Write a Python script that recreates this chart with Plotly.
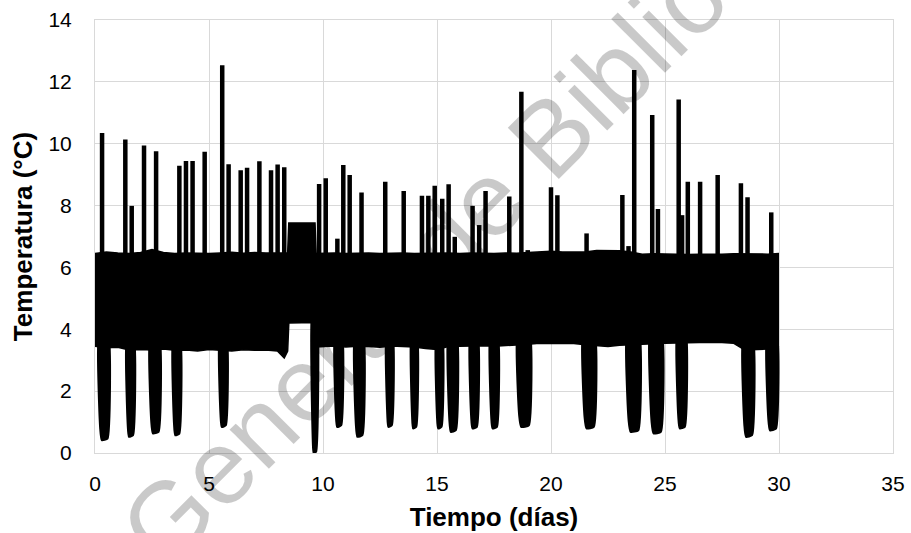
import numpy as np
import plotly.graph_objects as go

# Envelope of the fast on/off cycling band (day, upper and lower temperature)
band_day = [0.0, 0.5, 1.0, 1.5, 2.0, 2.5, 3.0, 3.5, 4.0, 4.5, 5.0, 5.5, 6.0, 6.5, 7.0, 7.5, 8.0,
            8.3, 8.45, 8.5, 9.0, 9.65, 9.7,
            10.0, 10.5, 11.0, 11.5, 12.0, 12.5, 13.0, 13.5, 14.0, 14.5, 15.0, 15.5, 16.0, 16.5,
            17.0, 17.5, 18.0, 18.5, 19.0, 19.5, 20.0, 20.5, 21.0, 21.5, 22.0, 22.5, 23.0, 23.5,
            24.0, 24.5, 25.0, 25.5, 26.0, 26.5, 27.0, 27.5, 28.0, 28.5, 29.0, 29.5, 30.0]
band_top = [6.45, 6.50, 6.47, 6.45, 6.48, 6.58, 6.48, 6.45, 6.47, 6.46, 6.45, 6.47, 6.49, 6.46, 6.48, 6.47, 6.46,
            6.45, 6.47, 7.44, 7.45, 7.44, 6.45,
            6.46, 6.47, 6.45, 6.46, 6.47, 6.45, 6.46, 6.47, 6.45, 6.46, 6.48, 6.47, 6.45, 6.47,
            6.46, 6.45, 6.47, 6.46, 6.48, 6.50, 6.52, 6.50, 6.51, 6.50, 6.55, 6.55, 6.54, 6.50,
            6.43, 6.44, 6.43, 6.44, 6.42, 6.43, 6.42, 6.43, 6.44, 6.43, 6.44, 6.43, 6.45]
band_low = [3.45, 3.40, 3.42, 3.33, 3.35, 3.33, 3.36, 3.32, 3.33, 3.30, 3.35, 3.33, 3.30, 3.34, 3.32, 3.33, 3.30,
            3.07, 3.30, 4.20, 4.20, 4.22, 3.43,
            3.44, 3.46, 3.43, 3.45, 3.44, 3.42, 3.46, 3.44, 3.43, 3.38, 3.35, 3.44, 3.45, 3.46,
            3.47, 3.45, 3.47, 3.48, 3.52, 3.55, 3.55, 3.56, 3.54, 3.50, 3.46, 3.44, 3.48, 3.50,
            3.52, 3.55, 3.55, 3.56, 3.57, 3.58, 3.58, 3.57, 3.55, 3.33, 3.35, 3.36, 3.45]

# Door-opening peaks (day, maximum temperature)
peak_day = [0.31, 1.33, 1.61, 2.15, 2.68, 3.70, 3.99, 4.28, 4.81, 5.58, 5.86, 6.39, 6.67, 7.21,
            7.72, 8.01, 8.30, 9.83, 10.12, 10.63, 10.89, 11.17, 11.69, 12.73, 13.54, 14.34,
            14.62, 14.90, 15.23, 15.51, 15.78, 16.56, 16.85, 17.13, 18.17, 18.70, 18.98, 20.00,
            20.28, 21.56, 23.13, 23.40, 23.65, 24.44, 24.69, 25.60, 25.75, 26.00, 26.54, 27.31,
            28.33, 28.62, 29.66]
peak_temp = [10.35, 10.14, 7.99, 9.94, 9.76, 9.29, 9.44, 9.44, 9.74, 12.54, 9.34, 9.14, 9.22, 9.43,
             9.14, 9.33, 9.24, 8.70, 8.88, 6.93, 9.31, 8.99, 8.42, 8.77, 8.47, 8.32,
             8.32, 8.64, 8.22, 8.69, 6.99, 7.99, 7.37, 8.47, 8.29, 11.68, 6.56, 8.59,
             8.33, 7.10, 8.34, 6.69, 12.38, 10.93, 7.89, 11.43, 7.69, 8.77, 8.77, 8.99,
             8.72, 8.27, 7.78]

# Defrost drops (centre day, minimum temperature, duration in days)
drop_day = [0.38, 1.55, 2.62, 3.58, 5.62, 9.63, 10.68, 11.58, 12.92, 14.00, 15.10, 15.68,
            16.62, 17.50, 18.80, 21.66, 23.60, 24.60, 25.72, 28.64, 29.69]
drop_min = [0.42, 0.53, 0.64, 0.58, 0.85, 0.00, 0.85, 0.53, 0.85, 0.80, 0.80, 0.69,
            0.80, 0.80, 0.85, 0.80, 0.69, 0.64, 0.80, 0.53, 0.74]
drop_len = [0.38, 0.28, 0.38, 0.28, 0.28, 0.18, 0.28, 0.34, 0.24, 0.22, 0.24, 0.34,
            0.30, 0.30, 0.50, 0.48, 0.50, 0.48, 0.34, 0.40, 0.40]

x_ticks = [0, 5, 10, 15, 20, 25, 30, 35]
y_ticks = [0, 2, 4, 6, 8, 10, 12, 14]

INK = "#000000"
GRID = "#d9d9d9"
FONT = "Liberation Sans, Arial, sans-serif"

fig = go.Figure()

# solid band of the compressor cycling
fig.add_trace(go.Scatter(x=band_day, y=band_low, mode="lines",
                         line=dict(color=INK, width=1.5), hoverinfo="skip"))
fig.add_trace(go.Scatter(x=band_day, y=band_top, mode="lines", fill="tonexty",
                         fillcolor=INK, line=dict(color=INK, width=1.5), hoverinfo="skip"))

# upward peaks
px, py = [], []
for d, t in zip(peak_day, peak_temp):
    base = float(np.interp(d, band_day, band_low)) + 0.6
    px += [d, d, None]
    py += [base, t, None]
fig.add_trace(go.Scatter(x=px, y=py, mode="lines",
                         line=dict(color=INK, width=4.5), hoverinfo="skip"))

# downward drops: steep fall, short flat bottom, steep recovery
for d, m, w in zip(drop_day, drop_min, drop_len):
    base = float(np.interp(d, band_day, band_low)) + 0.4
    left, right = d - w / 2, d + w / 2
    xs = [left, left + 0.04 * (w / 0.3), left + 0.09 * (w / 0.3), right - 0.03, right, left]
    ys = [base, m + 0.35, m, m + 0.05, base, base]
    fig.add_trace(go.Scatter(x=xs, y=ys, mode="lines", fill="toself", fillcolor=INK,
                             line=dict(color=INK, width=2.5, shape="spline", smoothing=0.4),
                             hoverinfo="skip"))

# faint diagonal watermark
fig.add_annotation(text="General de Biblioteca", xref="paper", yref="paper",
                   x=0.501, y=0.603, xanchor="center", yanchor="middle",
                   textangle=-45, showarrow=False,
                   font=dict(family=FONT, size=105, color="rgba(0,0,0,0.21)"))

fig.update_layout(
    width=911, height=533,
    margin=dict(l=95, r=18, t=20, b=80),
    paper_bgcolor="white", plot_bgcolor="white",
    showlegend=False,
    font=dict(family=FONT, color="#000000"),
)
fig.update_xaxes(
    range=[0, 35], tickvals=x_ticks, showgrid=True, gridcolor=GRID, gridwidth=1,
    zeroline=False, showline=True, mirror=True, linecolor=GRID, linewidth=1,
    ticks="outside", ticklen=12, tickcolor="rgba(0,0,0,0)", automargin=False,
    tickfont=dict(family=FONT, size=21, color="#000000"),
    title=dict(text="<b>Tiempo (días)</b>", standoff=13,
               font=dict(family=FONT, size=26, color="#000000")),
)
fig.update_yaxes(
    range=[0, 14], tickvals=y_ticks, showgrid=True, gridcolor=GRID, gridwidth=1,
    zeroline=False, showline=True, mirror=True, linecolor=GRID, linewidth=1,
    ticks="outside", ticklen=18, tickcolor="rgba(0,0,0,0)", automargin=False,
    tickfont=dict(family=FONT, size=21, color="#000000"),
    title=dict(text="<b>Temperatura (°C)</b>", standoff=8,
               font=dict(family=FONT, size=26, color="#000000")),
)

fig.write_html("out.html")
